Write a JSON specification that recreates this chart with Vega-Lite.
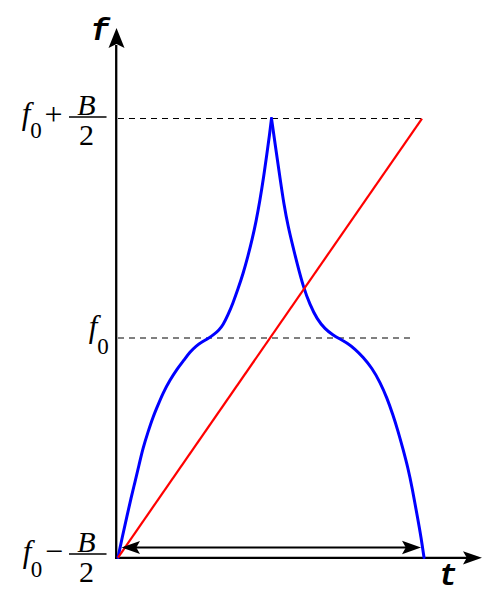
{
  "$schema": "https://vega.github.io/schema/vega-lite/v6.json",
  "width": 500,
  "height": 600,
  "autosize": {"type": "fit", "contains": "padding"},
  "padding": 0,
  "background": "white",
  "config": {"view": {"stroke": null}, "font": "Liberation Serif"},
  "datasets": {
    "chirp": [
      {"branch": "rise", "t": 0.0, "f": -1.0},
      {"branch": "rise", "t": 0.0148, "f": -0.9021},
      {"branch": "rise", "t": 0.0296, "f": -0.8109},
      {"branch": "rise", "t": 0.0428, "f": -0.7289},
      {"branch": "rise", "t": 0.0559, "f": -0.656},
      {"branch": "rise", "t": 0.0691, "f": -0.5786},
      {"branch": "rise", "t": 0.0822, "f": -0.5011},
      {"branch": "rise", "t": 0.0987, "f": -0.4282},
      {"branch": "rise", "t": 0.1151, "f": -0.3599},
      {"branch": "rise", "t": 0.1316, "f": -0.3052},
      {"branch": "rise", "t": 0.148, "f": -0.2506},
      {"branch": "rise", "t": 0.1711, "f": -0.1913},
      {"branch": "rise", "t": 0.1941, "f": -0.1412},
      {"branch": "rise", "t": 0.2171, "f": -0.1002},
      {"branch": "rise", "t": 0.2368, "f": -0.0638},
      {"branch": "rise", "t": 0.2566, "f": -0.0364},
      {"branch": "rise", "t": 0.2763, "f": -0.0182},
      {"branch": "rise", "t": 0.2961, "f": -0.0023},
      {"branch": "rise", "t": 0.3158, "f": 0.0159},
      {"branch": "rise", "t": 0.3322, "f": 0.0364},
      {"branch": "rise", "t": 0.3454, "f": 0.0592},
      {"branch": "rise", "t": 0.3618, "f": 0.1048},
      {"branch": "rise", "t": 0.3783, "f": 0.1595},
      {"branch": "rise", "t": 0.3947, "f": 0.2232},
      {"branch": "rise", "t": 0.4112, "f": 0.2916},
      {"branch": "rise", "t": 0.4276, "f": 0.3736},
      {"branch": "rise", "t": 0.4408, "f": 0.4465},
      {"branch": "rise", "t": 0.4539, "f": 0.5285},
      {"branch": "rise", "t": 0.4671, "f": 0.6287},
      {"branch": "rise", "t": 0.4786, "f": 0.7289},
      {"branch": "rise", "t": 0.4901, "f": 0.8428},
      {"branch": "rise", "t": 0.4984, "f": 0.9248},
      {"branch": "rise", "t": 0.5049, "f": 1.0},
      {"branch": "fall", "t": 0.5049, "f": 1.0},
      {"branch": "fall", "t": 0.5197, "f": 0.8565},
      {"branch": "fall", "t": 0.5329, "f": 0.7289},
      {"branch": "fall", "t": 0.5461, "f": 0.6059},
      {"branch": "fall", "t": 0.5592, "f": 0.5103},
      {"branch": "fall", "t": 0.5757, "f": 0.4146},
      {"branch": "fall", "t": 0.5888, "f": 0.3417},
      {"branch": "fall", "t": 0.6086, "f": 0.2369},
      {"branch": "fall", "t": 0.6316, "f": 0.1503},
      {"branch": "fall", "t": 0.6546, "f": 0.0866},
      {"branch": "fall", "t": 0.6809, "f": 0.041},
      {"branch": "fall", "t": 0.7072, "f": 0.0137},
      {"branch": "fall", "t": 0.7303, "f": -0.0046},
      {"branch": "fall", "t": 0.7533, "f": -0.0228},
      {"branch": "fall", "t": 0.7796, "f": -0.0501},
      {"branch": "fall", "t": 0.8059, "f": -0.0866},
      {"branch": "fall", "t": 0.8355, "f": -0.1367},
      {"branch": "fall", "t": 0.8618, "f": -0.2005},
      {"branch": "fall", "t": 0.8849, "f": -0.2733},
      {"branch": "fall", "t": 0.9046, "f": -0.3508},
      {"branch": "fall", "t": 0.9211, "f": -0.4237},
      {"branch": "fall", "t": 0.9375, "f": -0.5057},
      {"branch": "fall", "t": 0.9539, "f": -0.5923},
      {"branch": "fall", "t": 0.9671, "f": -0.6788},
      {"branch": "fall", "t": 0.9868, "f": -0.8292},
      {"branch": "fall", "t": 0.9967, "f": -0.9066},
      {"branch": "fall", "t": 1.0066, "f": -1.0}
    ],
    "linear": [
      {"t": 0.0, "f": -1.0},
      {"t": 1.0, "f": 1.0}
    ],
    "guides": [
      {"t": 0.0, "t2": 1.0, "f": 1.0},
      {"t": 0.0, "t2": 0.977, "f": 0.0}
    ],
    "vaxis": [{"t": -0.0059, "f": -1.0068, "f2": 1.3349}],
    "haxis": [{"t": -0.0099, "t2": 1.1579, "f": -1.0014}],
    "span": [{"t": 0.02, "t2": 0.98, "f": -0.9545}],
    "bars": [
      {"t": -0.1612, "t2": -0.0378, "f": 1.0068},
      {"t": -0.1612, "t2": -0.0378, "f": -0.9841}
    ],
    "headRight": [
      {"t": 1.1661, "f": -1.0014},
      {"t": 0.9655, "f": -0.9545}
    ],
    "headLeft": [{"t": 0.0419, "f": -0.9545}],
    "headUp": [{"t": -0.0049, "f": 1.3667}],
    "fItalic": [
      {"t": -0.3026, "f": 0.9749, "label": "f"},
      {"t": -0.0822, "f": 0.0046, "label": "f"},
      {"t": -0.2993, "f": -1.0205, "label": "f"}
    ],
    "subs": [
      {"t": -0.2697, "f": 0.9112, "label": "0"},
      {"t": -0.0493, "f": -0.0729, "label": "0"},
      {"t": -0.2681, "f": -1.0888, "label": "0"}
    ],
    "ops": [
      {"t": -0.2122, "f": 0.9704, "label": "+"},
      {"t": -0.2105, "f": -1.0205, "label": "−"}
    ],
    "numer": [
      {"t": -0.1036, "f": 1.0159, "label": "B"},
      {"t": -0.1036, "f": -0.9727, "label": "B"}
    ],
    "denom": [
      {"t": -0.1036, "f": 0.8793, "label": "2"},
      {"t": -0.1036, "f": -1.1116, "label": "2"}
    ],
    "axisNames": [
      {"t": -0.0592, "f": 1.3576, "label": "f"},
      {"t": 1.0855, "f": -1.1253, "label": "t"}
    ]
  },
  "encoding": {
    "x": {"field": "t", "type": "quantitative", "scale": {"domain": [-0.3882, 1.2566], "nice": false, "zero": false}, "axis": null},
    "y": {"field": "f", "type": "quantitative", "scale": {"domain": [-1.1936, 1.5399], "nice": false, "zero": false}, "axis": null}
  },
  "layer": [
    {
      "data": {"name": "guides"},
      "mark": {"type": "rule", "color": "black", "strokeWidth": 1, "strokeDash": [6, 5]},
      "encoding": {"x2": {"field": "t2"}}
    },
    {
      "data": {"name": "vaxis"},
      "mark": {"type": "rule", "color": "black", "strokeWidth": 2.3},
      "encoding": {"y2": {"field": "f2"}}
    },
    {
      "data": {"name": "haxis"},
      "mark": {"type": "rule", "color": "black", "strokeWidth": 2.3},
      "encoding": {"x2": {"field": "t2"}}
    },
    {
      "data": {"name": "span"},
      "mark": {"type": "rule", "color": "black", "strokeWidth": 1.8},
      "encoding": {"x2": {"field": "t2"}}
    },
    {
      "data": {"name": "bars"},
      "mark": {"type": "rule", "color": "black", "strokeWidth": 1.5},
      "encoding": {"x2": {"field": "t2"}}
    },
    {
      "data": {"name": "chirp"},
      "mark": {"type": "line", "color": "#0000ff", "strokeWidth": 3, "interpolate": "basis", "strokeJoin": "round", "strokeCap": "round"},
      "encoding": {"detail": {"field": "branch"}}
    },
    {
      "data": {"name": "linear"},
      "mark": {"type": "line", "color": "#ff0000", "strokeWidth": 2.2},
      "encoding": {}
    },
    {
      "data": {"name": "headRight"},
      "mark": {"type": "point", "filled": true, "color": "black", "opacity": 1, "strokeWidth": 0, "size": 361, "shape": "M1,0L-1,-0.7L-0.6,0L-1,0.7Z"},
      "encoding": {}
    },
    {
      "data": {"name": "headLeft"},
      "mark": {"type": "point", "filled": true, "color": "black", "opacity": 1, "strokeWidth": 0, "size": 342, "shape": "M-1,0L1,-0.7L0.6,0L1,0.7Z"},
      "encoding": {}
    },
    {
      "data": {"name": "headUp"},
      "mark": {"type": "point", "filled": true, "color": "black", "opacity": 1, "strokeWidth": 0, "size": 400, "shape": "M0,-1L0.8,1L0,0.6L-0.8,1Z"},
      "encoding": {}
    },
    {
      "data": {"name": "fItalic"},
      "mark": {"type": "text", "font": "Liberation Serif", "fontStyle": "italic", "fontSize": 31, "align": "center", "baseline": "alphabetic", "color": "black"},
      "encoding": {"text": {"field": "label"}}
    },
    {
      "data": {"name": "subs"},
      "mark": {"type": "text", "font": "Liberation Serif", "fontSize": 23, "align": "center", "baseline": "alphabetic", "color": "black"},
      "encoding": {"text": {"field": "label"}}
    },
    {
      "data": {"name": "ops"},
      "mark": {"type": "text", "font": "Liberation Serif", "fontSize": 32, "align": "center", "baseline": "alphabetic", "color": "black"},
      "encoding": {"text": {"field": "label"}}
    },
    {
      "data": {"name": "numer"},
      "mark": {"type": "text", "font": "Liberation Serif", "fontStyle": "italic", "fontSize": 30, "align": "center", "baseline": "alphabetic", "color": "black"},
      "encoding": {"text": {"field": "label"}}
    },
    {
      "data": {"name": "denom"},
      "mark": {"type": "text", "font": "Liberation Serif", "fontSize": 30, "align": "center", "baseline": "alphabetic", "color": "black"},
      "encoding": {"text": {"field": "label"}}
    },
    {
      "data": {"name": "axisNames"},
      "mark": {"type": "text", "font": "Liberation Mono", "fontStyle": "italic", "fontWeight": "bold", "fontSize": 31, "align": "center", "baseline": "alphabetic", "color": "black"},
      "encoding": {"text": {"field": "label"}}
    }
  ]
}
